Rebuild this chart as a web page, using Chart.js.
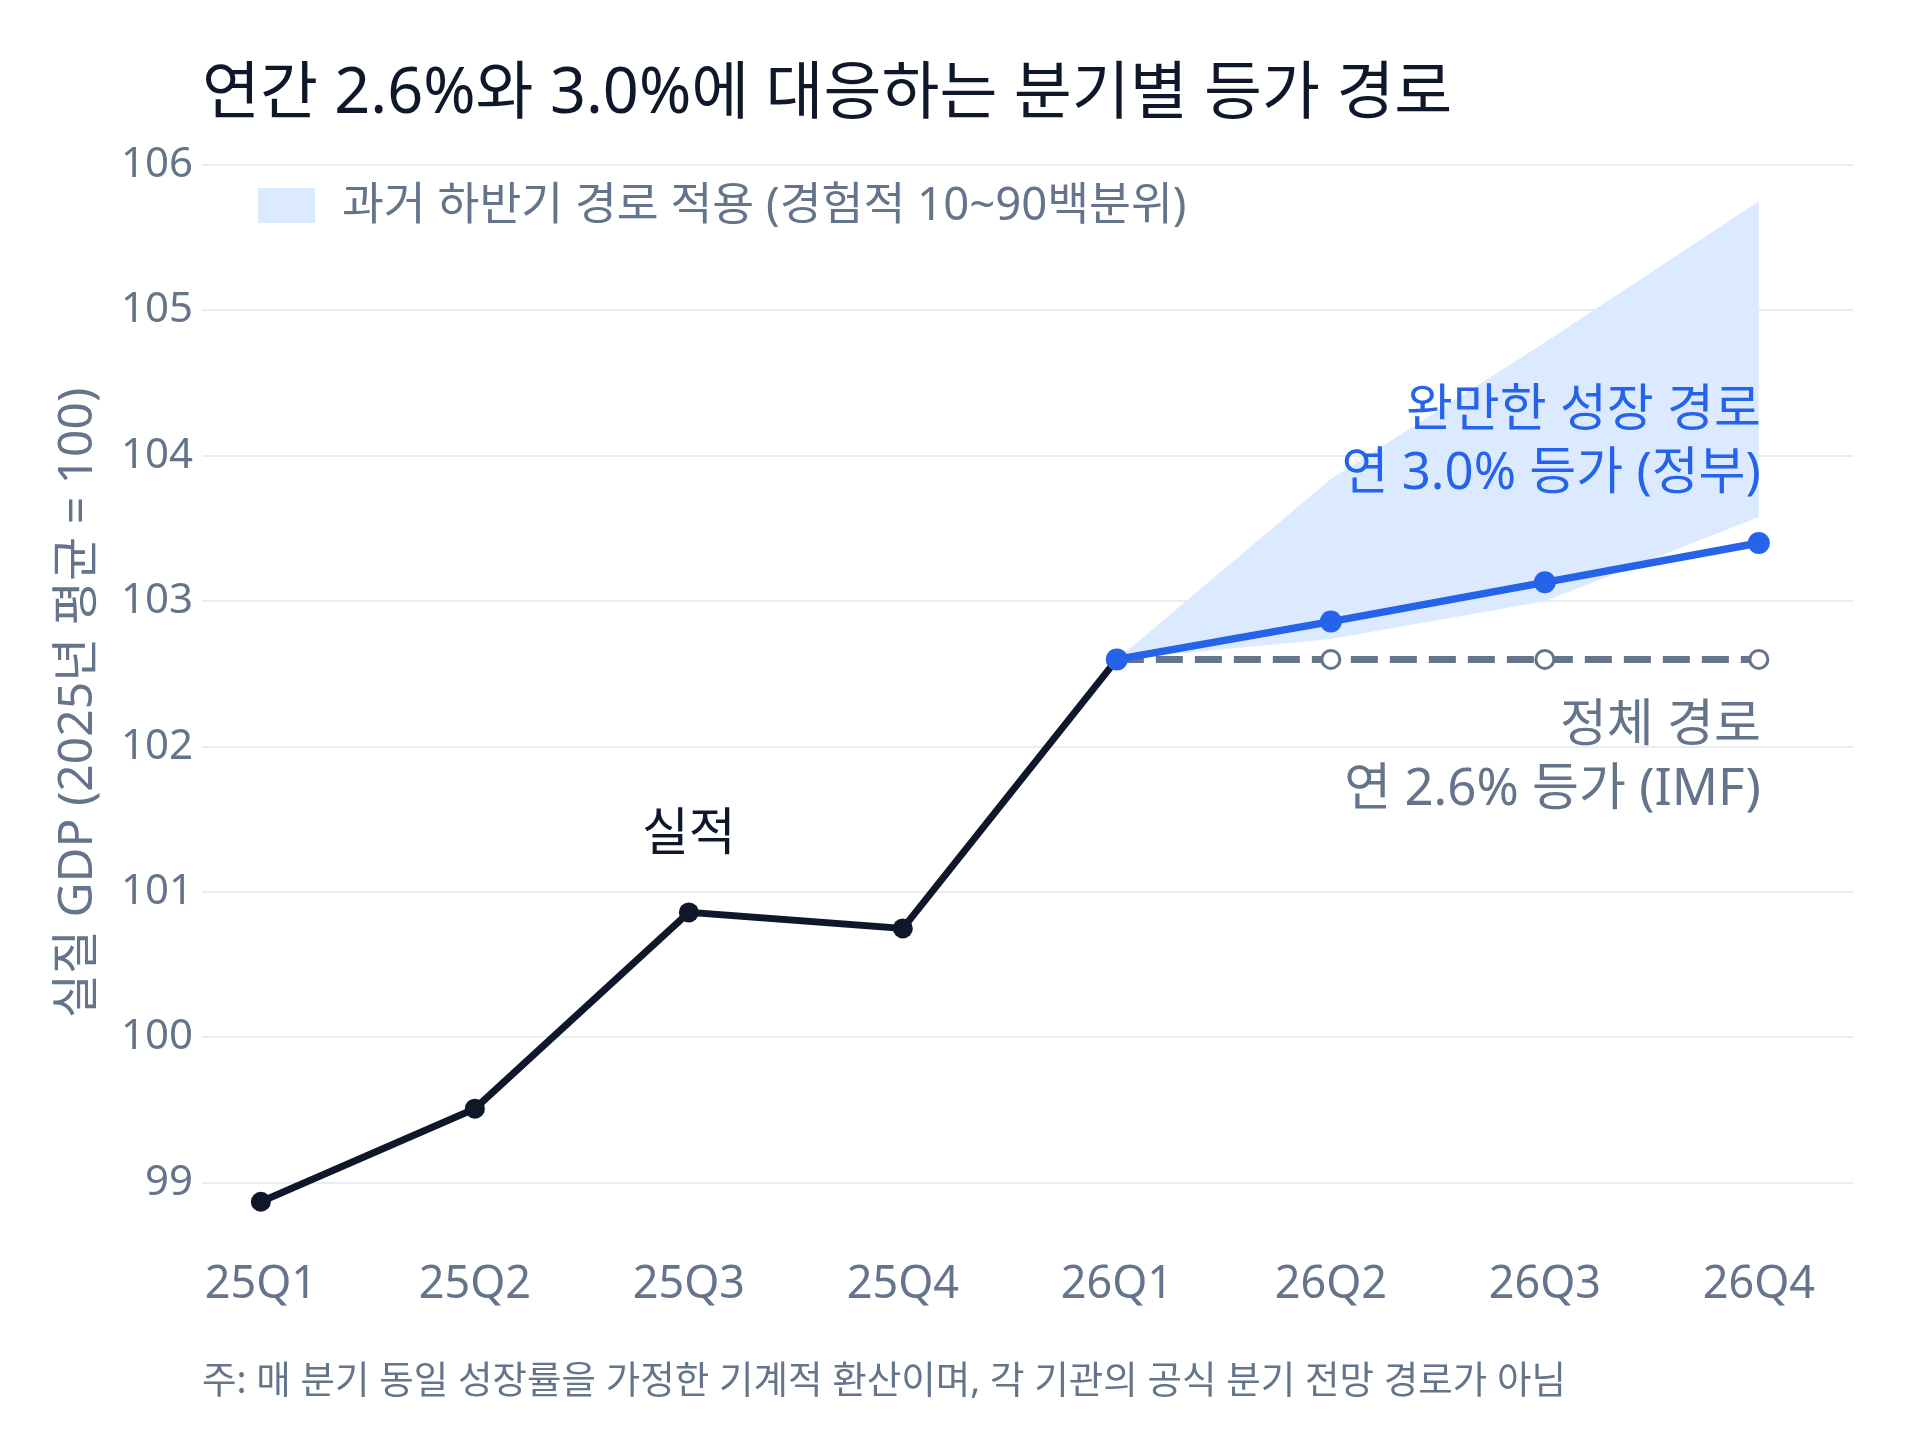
<!DOCTYPE html>
<html>
<head>
<meta charset="utf-8">
<script src="https://cdn.jsdelivr.net/npm/chart.js@4"></script>
<style>
  html, body { margin: 0; padding: 0; background: #ffffff; }
  #wrap { width: 1920px; height: 1440px; }
</style>
</head>
<body>
<div id="wrap"><canvas id="gdpChart" width="1920" height="1440"></canvas></div>
<script>
// 분기 라벨
const quarters = ['25Q1', '25Q2', '25Q3', '25Q4', '26Q1', '26Q2', '26Q3', '26Q4'];
const yTicks = [99, 100, 101, 102, 103, 104, 105, 106];

// 실적 (25Q1 ~ 26Q1)
const actual = [98.87, 99.51, 100.86, 100.75, 102.6];
// 전망 구간 (26Q1 ~ 26Q4)
const govPath = [102.6, 102.86, 103.13, 103.40];   // 연 3.0% (정부)
const imfPath = [102.6, 102.6, 102.6, 102.6];      // 연 2.6% (IMF)
const bandUpper = [102.6, 103.84, 104.78, 105.75]; // 90백분위
const bandLower = [102.6, 102.74, 103.0, 103.58];  // 10백분위

const FONT = '"Noto Sans", "Noto Sans CJK KR", sans-serif';
const INK = '#0f172a';
const SLATE = '#64748b';
const BLUE = '#2563eb';
const BAND = '#dbeafe';

const fStart = quarters.indexOf('26Q1');
const toXY = (arr, start) => arr.map((v, i) => ({ x: start + i, y: v }));

// 제목, 범례, 주석, 각주
const textPlugin = {
  id: 'texts',
  afterDraw(chart) {
    const ctx = chart.ctx;
    const area = chart.chartArea;
    const xs = chart.scales.x;
    const ys = chart.scales.y;
    ctx.save();

    // 제목
    ctx.fillStyle = INK;
    ctx.font = '63px ' + FONT;
    ctx.textAlign = 'left';
    ctx.textBaseline = 'middle';
    ctx.fillText('연간 2.6%와 3.0%에 대응하는 분기별 등가 경로', area.left, 95);

    // 범례 (밴드)
    const band = chart.data.datasets[0];
    ctx.fillStyle = band.backgroundColor;
    ctx.fillRect(258, 188, 57, 35);
    ctx.fillStyle = SLATE;
    ctx.font = '45.5px ' + FONT;
    ctx.fillText(band.label, 342, 207);

    // 실적 라벨
    ctx.fillStyle = INK;
    ctx.font = '51px ' + FONT;
    ctx.textAlign = 'center';
    ctx.fillText('실적', xs.getPixelForValue(2), ys.getPixelForValue(actual[2]) - 77);

    // 정부 경로 라벨
    const lastX = xs.getPixelForValue(quarters.length - 1) + 2;
    const govY = ys.getPixelForValue(govPath[govPath.length - 1]);
    ctx.fillStyle = BLUE;
    ctx.textAlign = 'right';
    ctx.fillText('완만한 성장 경로', lastX, govY - 132);
    ctx.fillText('연 3.0% 등가 (정부)', lastX, govY - 69);

    // IMF 경로 라벨
    const imfY = ys.getPixelForValue(imfPath[imfPath.length - 1]);
    ctx.fillStyle = SLATE;
    ctx.fillText('정체 경로', lastX, imfY + 67);
    ctx.fillText('연 2.6% 등가 (IMF)', lastX, imfY + 131);

    // 각주
    ctx.textAlign = 'left';
    ctx.font = '37.5px ' + FONT;
    ctx.fillText('주: 매 분기 동일 성장률을 가정한 기계적 환산이며, 각 기관의 공식 분기 전망 경로가 아님', area.left, 1382);

    ctx.restore();
  }
};

new Chart(document.getElementById('gdpChart'), {
  type: 'line',
  data: {
    datasets: [
      {
        label: '과거 하반기 경로 적용 (경험적 10~90백분위)',
        data: toXY(bandUpper, fStart),
        borderWidth: 0,
        borderColor: 'rgba(0,0,0,0)',
        backgroundColor: BAND,
        pointRadius: 0,
        fill: '+1',
        order: 5
      },
      {
        label: 'band-lower',
        data: toXY(bandLower, fStart),
        borderWidth: 0,
        borderColor: 'rgba(0,0,0,0)',
        pointRadius: 0,
        fill: false,
        order: 4
      },
      {
        label: '정체 경로',
        data: toXY(imfPath, fStart),
        borderColor: SLATE,
        borderWidth: 7,
        borderDash: [27, 12],
        pointRadius: [0, 9, 9, 9],
        pointBackgroundColor: '#ffffff',
        pointBorderColor: SLATE,
        pointBorderWidth: 3,
        fill: false,
        order: 3
      },
      {
        label: '실적',
        data: toXY(actual, 0),
        borderColor: INK,
        backgroundColor: INK,
        borderWidth: 7,
        pointRadius: 10,
        pointBackgroundColor: INK,
        pointBorderWidth: 0,
        fill: false,
        order: 2
      },
      {
        label: '완만한 성장 경로',
        data: toXY(govPath, fStart),
        borderColor: BLUE,
        backgroundColor: BLUE,
        borderWidth: 7.5,
        pointRadius: 11,
        pointBackgroundColor: BLUE,
        pointBorderWidth: 0,
        fill: false,
        order: 1
      }
    ]
  },
  options: {
    responsive: false,
    animation: false,
    layout: { padding: { top: 165, right: 67, bottom: 100, left: 0 } },
    plugins: {
      legend: { display: false },
      tooltip: { enabled: false }
    },
    scales: {
      x: {
        type: 'linear',
        min: -0.275,
        max: 7.44,
        afterBuildTicks: (scale) => { scale.ticks = quarters.map((q, i) => ({ value: i })); },
        afterFit: (scale) => { scale.height = 99; },
        grid: { display: false, drawTicks: false },
        border: { display: false },
        ticks: {
          padding: 17,
          color: SLATE,
          font: { family: FONT, size: 45 },
          callback: (v) => quarters[v]
        }
      },
      y: {
        min: 98.6,
        max: 106,
        afterBuildTicks: (scale) => { scale.ticks = yTicks.map((v) => ({ value: v })); },
        afterFit: (scale) => { scale.width = 202; },
        grid: { color: '#e8edf4', lineWidth: 2, drawTicks: false },
        border: { display: false },
        ticks: {
          padding: 9,
          color: SLATE,
          font: { family: FONT, size: 42 }
        },
        title: {
          display: true,
          text: '실질 GDP (2025년 평균 = 100)',
          color: SLATE,
          font: { family: FONT, size: 48 },
          padding: { top: 50, bottom: 0 }
        }
      }
    }
  },
  plugins: [textPlugin]
});
</script>
</body>
</html>
